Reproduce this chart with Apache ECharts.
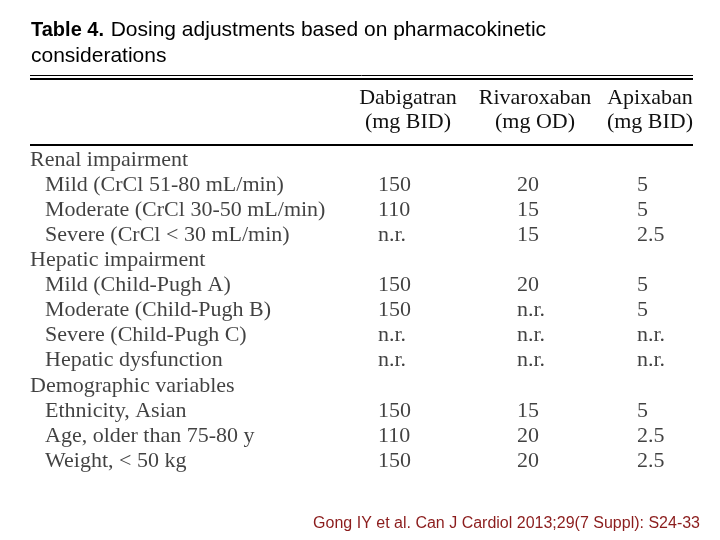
<!DOCTYPE html>
<html>
<head>
<meta charset="utf-8">
<script src="https://cdn.jsdelivr.net/npm/echarts@6/dist/echarts.min.js"></script>
<style>
  html, body { margin: 0; padding: 0; background: #fff; }
  #chart { width: 720px; height: 540px; }
</style>
</head>
<body>
<div id="chart"></div>
<script>
// 表格数据
var rowLabels = [
    'Renal impairment',
    'Mild (CrCl 51-80 mL/min)',
    'Moderate (CrCl 30-50 mL/min)',
    'Severe (CrCl < 30 mL/min)',
    'Hepatic impairment',
    'Mild (Child-Pugh A)',
    'Moderate (Child-Pugh B)',
    'Severe (Child-Pugh C)',
    'Hepatic dysfunction',
    'Demographic variables',
    'Ethnicity, Asian',
    'Age, older than 75-80 y',
    'Weight, < 50 kg'
];
var groupRow = [1, 0, 0, 0, 1, 0, 0, 0, 0, 1, 0, 0, 0];
var dabigatran = ['', '150', '110', 'n.r.', '', '150', '150', 'n.r.', 'n.r.', '', '150', '110', '150'];
var rivaroxaban = ['', '20', '15', '15', '', '20', 'n.r.', 'n.r.', 'n.r.', '', '15', '20', '20'];
var apixaban = ['', '5', '5', '2.5', '', '5', '5', 'n.r.', 'n.r.', '', '5', '2.5', '2.5'];
var headNames = ['Dabigatran', 'Rivaroxaban', 'Apixaban'];
var headUnits = ['(mg BID)', '(mg OD)', '(mg BID)'];
var titleBold = 'Table 4.';
var titleRest = 'Dosing adjustments based on pharmacokinetic';
var titleLine2 = 'considerations';
var source = 'Gong IY et al. Can J Cardiol 2013;29(7 Suppl): S24-33';

window.onload = function () {
    var myChart = echarts.init(document.getElementById('chart'));

    // 列的位置 (布局)
    var groupX = 30, itemX = 45;
    var colX = [378, 517, 637];
    var headX = [408, 535, 650];
    var serif = '"Liberation Serif", "Times New Roman", serif';
    var sans = '"Liberation Sans", Arial, sans-serif';
    var bodySize = 22;

    function textSeries(values, xFn) {
        var data = [];
        values.forEach(function (v, i) {
            if (v !== '') data.push([xFn(i), i, v]);
        });
        return {
            type: 'scatter',
            symbolSize: 0,
            silent: true,
            data: data,
            label: {
                show: true,
                position: 'right',
                distance: 0,
                color: '#111',
                fontFamily: serif,
                fontSize: bodySize,
                formatter: function (p) { return p.data[2]; }
            }
        };
    }

    var graphics = [];
    // 标题
    graphics.push({
        type: 'text', x: 31, y: 30,
        style: {
            text: '{b|' + titleBold + '}  {r|' + titleRest + '}',
            verticalAlign: 'middle',
            rich: {
                b: { fontFamily: sans, fontWeight: 'bold', fontSize: 20, fill: '#000' },
                r: { fontFamily: sans, fontSize: 21, fill: '#000' }
            }
        }
    });
    graphics.push({
        type: 'text', x: 31, y: 56,
        style: { text: titleLine2, verticalAlign: 'middle', fontFamily: sans, fontSize: 21, fill: '#000' }
    });
    // 横线
    graphics.push({ type: 'line', shape: { x1: 30, y1: 75.5, x2: 693, y2: 75.5 }, style: { stroke: '#000', lineWidth: 1 } });
    graphics.push({ type: 'line', shape: { x1: 30, y1: 79, x2: 693, y2: 79 }, style: { stroke: '#000', lineWidth: 2 } });
    graphics.push({ type: 'line', shape: { x1: 30, y1: 145, x2: 693, y2: 145 }, style: { stroke: '#000', lineWidth: 2 } });
    // 表头
    headNames.forEach(function (n, i) {
        graphics.push({
            type: 'text', x: headX[i], y: 98,
            style: { text: n, align: 'center', verticalAlign: 'middle', fontFamily: serif, fontSize: bodySize, fill: '#111' }
        });
        graphics.push({
            type: 'text', x: headX[i], y: 122,
            style: { text: headUnits[i], align: 'center', verticalAlign: 'middle', fontFamily: serif, fontSize: bodySize, fill: '#111' }
        });
    });
    // 出处
    graphics.push({
        type: 'text', x: 700, y: 524,
        style: { text: source, align: 'right', verticalAlign: 'middle', fontFamily: sans, fontSize: 16, fill: '#8b1c1c' }
    });

    var option = {
        backgroundColor: '#fff',
        animation: false,
        grid: { left: 0, right: 0, top: 147.5, bottom: 66.5 },
        xAxis: { type: 'value', min: 0, max: 720, show: false },
        yAxis: {
            type: 'category',
            inverse: true,
            show: false,
            data: rowLabels.map(function (r, i) { return i; })
        },
        series: [
            textSeries(rowLabels, function (i) { return groupRow[i] ? groupX : itemX; }),
            textSeries(dabigatran, function () { return colX[0]; }),
            textSeries(rivaroxaban, function () { return colX[1]; }),
            textSeries(apixaban, function () { return colX[2]; })
        ],
        graphic: graphics
    };

    myChart.setOption(option);
};
</script>
</body>
</html>
